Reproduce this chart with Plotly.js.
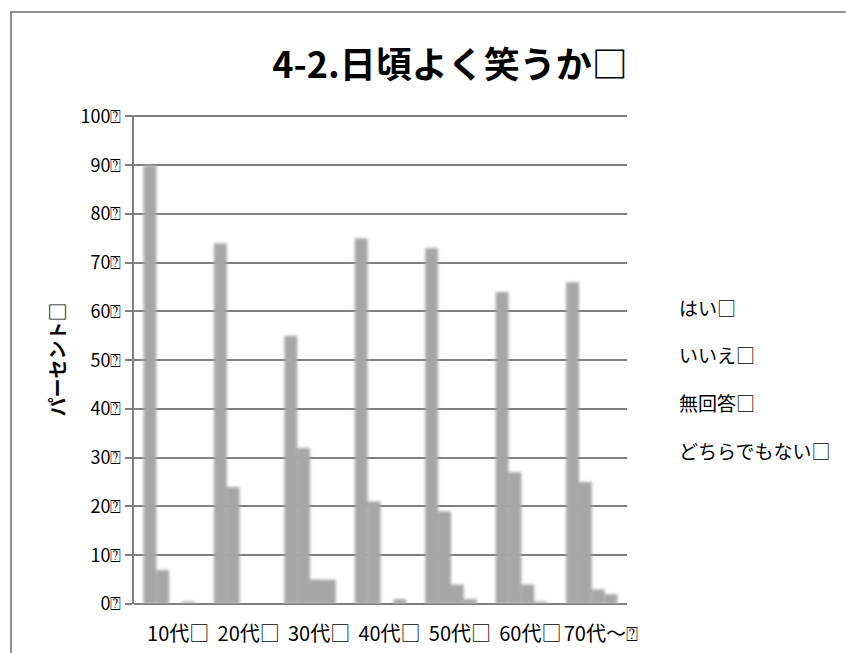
<!DOCTYPE html>
<html>
<head>
<meta charset="utf-8">
<script src="https://cdn.plot.ly/plotly-3.0.1.min.js"></script>
<style>
  html, body { margin: 0; padding: 0; background: #fff; }
  #wrap { position: relative; width: 846px; height: 653px; overflow: hidden; }
  #frame { position: absolute; left: 10px; top: 11px; right: -4px; bottom: -4px;
           border-top: 2px solid #8f8f8f; border-left: 2px solid #8f8f8f; pointer-events: none; z-index: 2; }
  #chart { position: absolute; left: 0; top: 0; width: 846px; height: 653px; }
  .barlayer { filter: url(#soft); }
</style>
</head>
<body>
<svg width="0" height="0" style="position:absolute">
  <defs>
    <filter id="soft" x="-20%" y="-20%" width="140%" height="140%">
      <feGaussianBlur stdDeviation="1.7"/>
    </filter>
  </defs>
</svg>
<div id="wrap">
  <div id="chart"></div>
  <div id="frame"></div>
</div>
<script>
// Age groups and answer shares (%)
const ageGroups = ['10代□', '20代□', '30代□', '40代□', '50代□', '60代□', '70代～⍰'];
const seriesNames = ['はい□', 'いいえ□', '無回答□', 'どちらでもない□'];
const yes      = [90, 74, 55, 75, 73, 64, 66];
const no       = [7, 24, 32, 21, 19, 27, 25];
const noAnswer = [0, 0, 5, 0, 4, 4, 3];
const neither  = [0.5, 0, 5, 1, 1, 0.5, 2];
const yTickVals = [0, 10, 20, 30, 40, 50, 60, 70, 80, 90, 100];
const yTickText = ['0⍰', '10⍰', '20⍰', '30⍰', '40⍰', '50⍰', '60⍰', '70⍰', '80⍰', '90⍰', '100⍰'];

const seriesValues = [yes, no, noAnswer, neither];
const FONT = '"Noto Sans CJK JP", "Noto Sans", "DejaVu Sans", sans-serif';
const GRID = '#808080';

const traces = seriesValues.map((vals, i) => ({
  type: 'bar',
  name: seriesNames[i],
  x: ageGroups,
  y: vals,
  marker: { color: '#a6a6a6', line: { width: 0 } },
  hoverinfo: 'none'
}));

// Legend text column on the right
const legendY = [0.607, 0.510, 0.412, 0.314];
const annotations = seriesNames.map((name, i) => ({
  text: name,
  xref: 'paper', yref: 'paper',
  x: 1.102, y: legendY[i],
  xanchor: 'left', yanchor: 'middle',
  showarrow: false,
  font: { family: FONT, size: 19, color: '#000' }
}));

const layout = {
  width: 846,
  height: 653,
  margin: { l: 134, r: 219, t: 115, b: 49, pad: 0 },
  paper_bgcolor: '#fff',
  plot_bgcolor: '#fff',
  font: { family: FONT, color: '#000' },
  showlegend: false,
  barmode: 'group',
  bargap: 0.27,
  bargroupgap: 0,
  title: {
    text: '<b>4-2.日頃よく笑うか□</b>',
    font: { family: FONT, size: 36, color: '#000' },
    x: 450 / 846, xanchor: 'center', xref: 'container',
    y: 1 - 65 / 653, yanchor: 'middle', yref: 'container'
  },
  xaxis: {
    type: 'category',
    showgrid: false,
    showline: false,
    ticks: '',
    tickfont: { family: FONT, size: 20, color: '#000' },
    ticklabelstandoff: 16,
    ticklabelshift: 9,
    zeroline: false
  },
  yaxis: {
    range: [0, 100.3],
    tickvals: yTickVals,
    ticktext: yTickText,
    tickfont: { family: FONT, size: 18, color: '#000' },
    showgrid: true,
    gridcolor: GRID,
    gridwidth: 2,
    showline: true,
    linecolor: GRID,
    linewidth: 2,
    ticks: 'outside',
    ticklen: 7,
    tickcolor: GRID,
    tickwidth: 2,
    zeroline: true,
    zerolinecolor: GRID,
    zerolinewidth: 2,
    title: {
      text: '<b>パーセント□</b>',
      font: { family: FONT, size: 19, color: '#000' },
      standoff: 10
    }
  },
  annotations: annotations
};

Plotly.newPlot('chart', traces, layout, { staticPlot: true, displayModeBar: false });
</script>
</body>
</html>
